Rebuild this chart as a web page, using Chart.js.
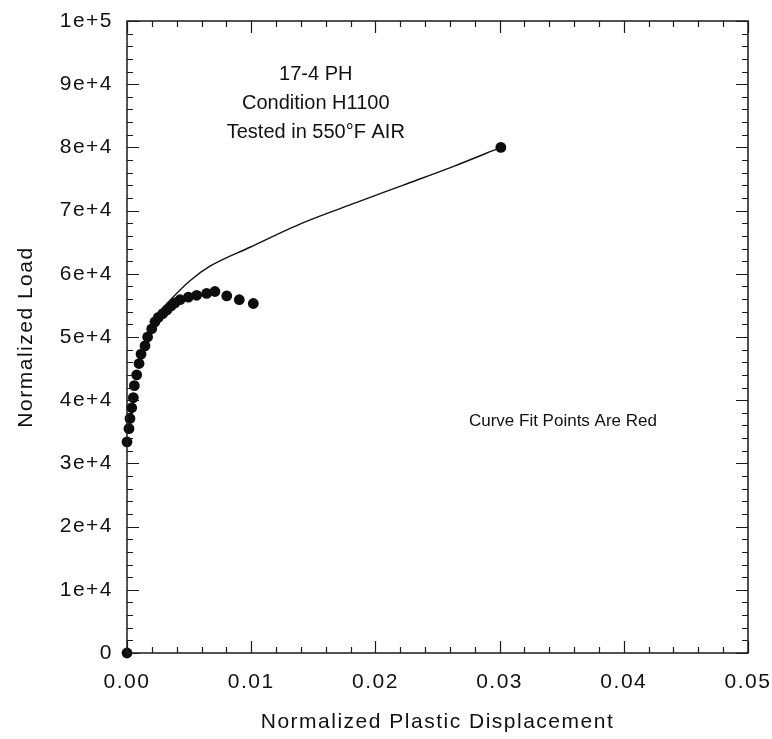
<!DOCTYPE html>
<html>
<head>
<meta charset="utf-8">
<script src="https://cdn.jsdelivr.net/npm/chart.js@4.4.1/dist/chart.umd.min.js"></script>
<style>
  html, body { margin: 0; padding: 0; background: #ffffff; }
  #wrap { width: 772px; height: 739px; }
</style>
</head>
<body>
<div id="wrap"><canvas id="chart" width="772" height="739"></canvas></div>
<script>
// Measured load vs. plastic displacement (normalized)
const testDisp = [0, 0, 0.00016, 0.00024, 0.00038, 0.00051, 0.00059, 0.00078, 0.00097,
  0.00113, 0.00145, 0.00166, 0.00199, 0.00225, 0.00252, 0.00288, 0.00322, 0.00355,
  0.00386, 0.00427, 0.00494, 0.00561, 0.00641, 0.00708, 0.00803, 0.00904, 0.01017, 0.0301];
const testLoad = [0, 33400, 35500, 37100, 38800, 40400, 42300, 44000, 45800,
  47300, 48600, 50000, 51300, 52400, 53100, 53700, 54300, 54900,
  55400, 55900, 56300, 56600, 56900, 57200, 56500, 55900, 55300, 80000];

// Fitted curve
const fitDisp = [0.0026, 0.00346, 0.00507, 0.00668, 0.0099, 0.0142, 0.0185, 0.0222, 0.0263, 0.0301];
const fitLoad = [53900, 55800, 58900, 61200, 64200, 68100, 71300, 74000, 77000, 80000];

// Labels shown at every fifth (major) tick
const xTickLabels = ['0.00', '0.01', '0.02', '0.03', '0.04', '0.05'];
const yTickLabels = ['0', '1e+4', '2e+4', '3e+4', '4e+4', '5e+4', '6e+4', '7e+4', '8e+4', '9e+4', '1e+5'];

const headerLines = ['17-4 PH', 'Condition H1100', 'Tested in 550\u00B0F AIR'];
const headerLoad = [91500, 86900, 82300];
const noteText = 'Curve Fit Points Are Red';

const FONT = "'Liberation Sans', Arial, sans-serif";
const INK = '#111111';

// Frame with inward-pointing major/minor tick marks on all four sides
const framePlugin = {
  id: 'frameTicks',
  beforeDraw(chart) {
    chart.ctx.letterSpacing = '1.5px';
  },
  afterDatasetsDraw(chart) {
    const { ctx, chartArea: a, scales } = chart;
    ctx.save();
    ctx.strokeStyle = '#1a1a1a';
    ctx.lineWidth = 1.5;
    ctx.strokeRect(a.left, a.top, a.right - a.left, a.bottom - a.top);
    ctx.lineWidth = 1.2;
    ctx.beginPath();
    scales.x.ticks.forEach((t, i) => {
      const px = Math.round(scales.x.getPixelForValue(t.value)) + 0.5;
      const len = i % 5 === 0 ? 12 : 6;
      ctx.moveTo(px, a.bottom); ctx.lineTo(px, a.bottom - len);
      ctx.moveTo(px, a.top); ctx.lineTo(px, a.top + len);
    });
    scales.y.ticks.forEach((t, i) => {
      const py = Math.round(scales.y.getPixelForValue(t.value)) + 0.5;
      const len = i % 5 === 0 ? 12 : 6;
      ctx.moveTo(a.left, py); ctx.lineTo(a.left + len, py);
      ctx.moveTo(a.right, py); ctx.lineTo(a.right - len, py);
    });
    ctx.stroke();
    ctx.restore();
  },
  afterDraw(chart) {
    const { ctx, scales } = chart;
    const x = scales.x, y = scales.y;
    ctx.save();
    ctx.letterSpacing = '0px';
    ctx.fillStyle = INK;
    ctx.textAlign = 'center';
    ctx.textBaseline = 'middle';
    ctx.font = '20px ' + FONT;
    const hx = x.getPixelForValue(0.0152);
    headerLines.forEach((s, i) => ctx.fillText(s, hx, y.getPixelForValue(headerLoad[i])));
    ctx.font = '17px ' + FONT;
    ctx.fillText(noteText, x.getPixelForValue(0.0351), y.getPixelForValue(36600));
    ctx.restore();
  }
};

new Chart(document.getElementById('chart'), {
  data: {
    datasets: [
      {
        type: 'line',
        data: fitDisp.map((v, i) => ({ x: v, y: fitLoad[i] })),
        borderColor: '#111111',
        borderWidth: 1.4,
        pointRadius: 0,
        fill: false,
        cubicInterpolationMode: 'monotone'
      },
      {
        type: 'scatter',
        data: testDisp.map((v, i) => ({ x: v, y: testLoad[i] })),
        backgroundColor: '#0d0d0d',
        borderColor: '#0d0d0d',
        borderWidth: 0,
        pointRadius: 5.4,
        clip: false
      }
    ]
  },
  options: {
    responsive: false,
    animation: false,
    events: [],
    layout: { padding: { left: 0, top: 21, right: 24, bottom: 0 } },
    plugins: { legend: { display: false }, tooltip: { enabled: false } },
    scales: {
      x: {
        type: 'linear',
        min: 0, max: 0.05,
        grid: { display: false, drawTicks: false },
        border: { display: false },
        ticks: {
          stepSize: 0.002,
          autoSkip: false,
          maxRotation: 0,
          padding: 17,
          color: INK,
          font: { family: FONT, size: 21 },
          callback: (v, i) => (i % 5 === 0 ? xTickLabels[i / 5] : '')
        },
        title: {
          display: true,
          text: 'Normalized Plastic Displacement',
          color: INK,
          font: { family: FONT, size: 21 },
          padding: { top: 0, bottom: 4 }
        },
        afterFit: (s) => { s.height = 86; s.paddingLeft = 0; s.paddingRight = 0; }
      },
      y: {
        type: 'linear',
        min: 0, max: 100000,
        grid: { display: false, drawTicks: false },
        border: { display: false },
        ticks: {
          stepSize: 2000,
          autoSkip: false,
          padding: 14,
          color: INK,
          font: { family: FONT, size: 21 },
          callback: (v, i) => (i % 5 === 0 ? yTickLabels[i / 5] : '')
        },
        title: {
          display: true,
          text: 'Normalized Load',
          color: INK,
          font: { family: FONT, size: 21 },
          padding: { top: 14, bottom: 0 }
        },
        afterFit: (s) => { s.width = 127; s.paddingTop = 0; s.paddingBottom = 0; }
      }
    }
  },
  plugins: [framePlugin]
});
</script>
</body>
</html>
